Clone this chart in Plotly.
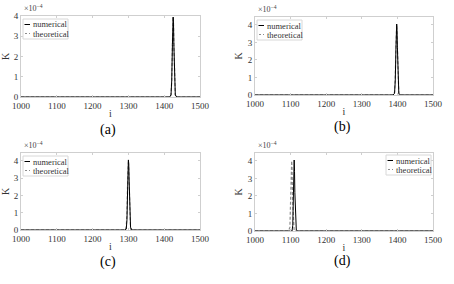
import plotly.graph_objects as go

# ---- data (K in units of 1e-4) ----
i_a = [1000, 1415, 1419, 1421, 1423, 1424, 1425, 1426, 1427, 1429, 1431, 1435, 1500]
num_a = [0, 0, 0.1, 0.8, 2.6, 3.6, 3.95, 3.6, 2.6, 0.8, 0.1, 0, 0]
the_a = [0, 0, 0.1, 0.8, 2.6, 3.6, 3.95, 3.6, 2.6, 0.8, 0.1, 0, 0]

i_b = [1000, 1388, 1392, 1394, 1396, 1397, 1398, 1399, 1400, 1402, 1404, 1408, 1500]
num_b = [0, 0, 0.1, 0.8, 2.7, 3.7, 4.05, 3.7, 2.7, 0.8, 0.1, 0, 0]
the_b = [0, 0, 0.15, 1.0, 2.9, 3.8, 4.0, 3.5, 2.4, 0.6, 0.05, 0, 0]

i_c = [1000, 1290, 1294, 1296, 1298, 1299, 1300, 1301, 1302, 1304, 1306, 1310, 1500]
num_c = [0, 0, 0.05, 0.6, 2.5, 3.6, 4.05, 3.8, 2.9, 1.0, 0.15, 0, 0]
the_c = [0, 0, 0.15, 1.0, 3.0, 3.85, 4.0, 3.5, 2.4, 0.6, 0.05, 0, 0]

i_d = [1000, 1094, 1098, 1100, 1102, 1103, 1104, 1106, 1108, 1109, 1110, 1111, 1112, 1114, 1116, 1120, 1500]
num_d = [0, 0, 0, 0, 0, 0, 0, 0.3, 2.0, 3.3, 4.05, 3.4, 2.2, 0.5, 0.05, 0, 0]
the_d = [0, 0, 0.2, 1.2, 3.2, 4.0, 3.6, 1.6, 0.3, 0.05, 0, 0, 0, 0, 0, 0, 0]

x_ticks = [1000, 1100, 1200, 1300, 1400, 1500]
y_ticks = [0, 1, 2, 3, 4]
captions = ["(a)", "(b)", "(c)", "(d)"]
legend_names = ["numerical", "theoretical"]
y_max = [4.0, 4.45, 4.45, 4.45]

W, H = 454, 284
boxes = [  # x0, x1, y0(top), y1(bottom) in pixels
    (21, 200, 16, 97),
    (255, 433, 17, 95),
    (21, 200, 153, 230),
    (255, 433, 153, 231),
]
cap_pos = [(108, 130), (342, 127), (108, 262), (342, 261)]

FONT = "Liberation Serif"
NUM_COLOR = "black"
THE_COLOR = "#8c8c8c"
AX_COLOR = "#cfcfcf"
fig = go.Figure()
series = [(i_a, num_a, the_a), (i_b, num_b, the_b), (i_c, num_c, the_c), (i_d, num_d, the_d)]


def px(xp):
    return xp / W


def py(yp):
    return 1 - yp / H


for k, ((xs, yn, yt), (x0, x1, t, b)) in enumerate(zip(series, boxes)):
    n = k + 1
    xa = "x" if n == 1 else f"x{n}"
    ya = "y" if n == 1 else f"y{n}"
    fig.add_trace(go.Scatter(x=xs, y=yt, mode="lines", name=legend_names[1],
                             line=dict(color=THE_COLOR, width=1.2, dash="3px,2px"),
                             xaxis=xa, yaxis=ya, showlegend=False))
    fig.add_trace(go.Scatter(x=xs, y=yn, mode="lines", name=legend_names[0],
                             line=dict(color=NUM_COLOR, width=1),
                             xaxis=xa, yaxis=ya, showlegend=False))
    dx = [px(x0), px(x1)]
    dy = [py(b), py(t)]
    axcommon = dict(showline=True, linecolor=AX_COLOR, linewidth=1, mirror="ticks",
                    ticks="inside", ticklen=2, tickcolor=AX_COLOR, showgrid=False,
                    zeroline=False, automargin=False,
                    tickfont=dict(family=FONT, size=9, color="#333"))
    fig.layout[("xaxis" if n == 1 else f"xaxis{n}")] = dict(
        domain=dx, range=[1000, 1500], tickvals=x_ticks, anchor=ya,
        title=dict(text="i", font=dict(family=FONT, size=10, color="#333"), standoff=0),
        **axcommon)
    fig.layout[("yaxis" if n == 1 else f"yaxis{n}")] = dict(
        domain=dy, range=[0, y_max[k]], tickvals=y_ticks, anchor=xa,
        title=dict(text="K", font=dict(family=FONT, size=10, color="#333"), standoff=3),
        **axcommon)

    # custom legend box
    bw, bh = 45, 20
    if n == 4:
        lx0 = x1 - 2 - bw
        ly0 = t + 2
    else:
        lx0 = x0 + 2
        ly0 = t + 3
    fig.add_shape(type="rect", xref="paper", yref="paper",
                  x0=px(lx0), x1=px(lx0 + bw), y0=py(ly0 + bh), y1=py(ly0),
                  line=dict(color="#d8d8d8", width=1), fillcolor="white")
    rows = [ly0 + 5.5, ly0 + 14.5]
    fig.add_shape(type="line", xref="paper", yref="paper",
                  x0=px(lx0 + 1.5), x1=px(lx0 + 7), y0=py(rows[0]), y1=py(rows[0]),
                  line=dict(color=NUM_COLOR, width=1))
    fig.add_shape(type="line", xref="paper", yref="paper",
                  x0=px(lx0 + 2), x1=px(lx0 + 7), y0=py(rows[1]), y1=py(rows[1]),
                  line=dict(color=THE_COLOR, width=1, dash="2px,2px"))
    for r, name in zip(rows, legend_names):
        fig.add_annotation(x=px(lx0 + 7.5), y=py(r), xref="paper", yref="paper",
                           text=name, showarrow=False, xanchor="left", yanchor="middle",
                           font=dict(family=FONT, size=8.5, color="#333"))

    # exponent label
    fig.add_annotation(x=px(x0 + 1), y=py(t - 1), xref="paper", yref="paper",
                       text="×10<sup>−4</sup>", showarrow=False, xanchor="left",
                       yanchor="bottom", font=dict(family=FONT, size=8, color="#444"))
    cx, cy = cap_pos[k]
    fig.add_annotation(x=px(cx), y=py(cy), xref="paper", yref="paper",
                       text=captions[k], showarrow=False, xanchor="center", yanchor="middle",
                       font=dict(family=FONT, size=14, color="black"))

fig.update_layout(width=W, height=H, margin=dict(l=0, r=0, t=0, b=0),
                  paper_bgcolor="white", plot_bgcolor="white", showlegend=False)
fig.write_html("out.html", config={"displayModeBar": False},
               post_script="document.body.style.margin='0';document.body.style.overflow='hidden';")
